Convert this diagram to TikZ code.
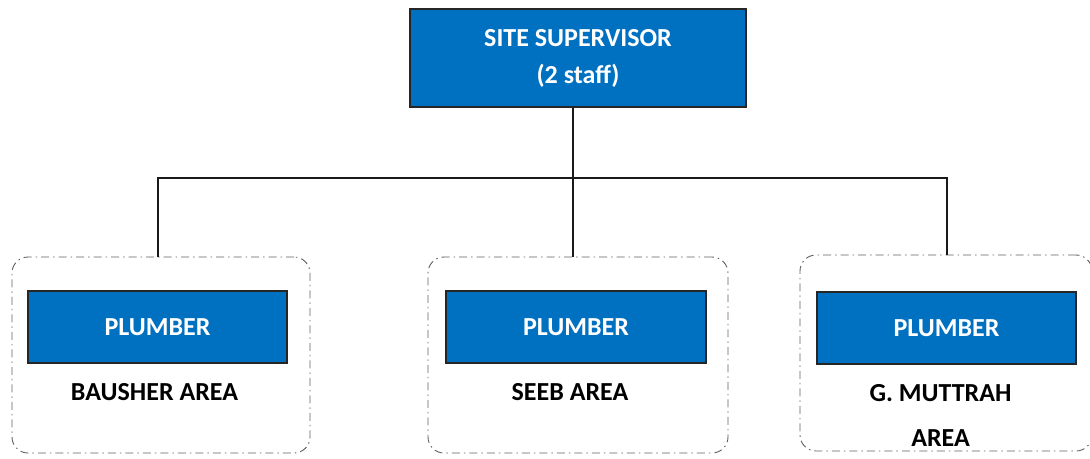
\documentclass[tikz,border=0pt]{standalone}
\usepackage{fontspec}
\setmainfont{Carlito}
\usetikzlibrary{positioning}
\definecolor{boxblue}{HTML}{0070C0}
\definecolor{areagray}{HTML}{606060}
\tikzset{
    post/.style={draw=black!85, line width=1.2pt, fill=boxblue, text=white,
        font=\fontsize{26}{37}\selectfont\bfseries, align=center, inner sep=0pt},
    area/.style={draw=areagray, line width=0.9pt, rounded corners=16pt,
        dash pattern=on 8pt off 4pt on 1.5pt off 4pt, minimum width=298pt, minimum height=196pt},
    place/.style={font=\fontsize{26}{45}\selectfont\bfseries, align=center, inner sep=0pt},
    link/.style={draw=black!90, line width=2pt},
}
\begin{document}
\begin{tikzpicture}[x=1pt, y=-1pt]
    \useasboundingbox (0,0) rectangle (1090,458);

    % dashed area frames
    \node [area] (area-a) at (161,355) {};
    \node [area, minimum width=300pt] (area-b) at (578,355) {};
    \node [area, minimum width=292pt] (area-c) at (946,353) {};

    % boxes
    \node [post, minimum width=336pt, minimum height=98pt] (sup) at (578,58) {SITE SUPERVISOR\\(2 staff)};
    \node [post, minimum width=259pt, minimum height=72pt] (pl-a) at (157.5,327) {PLUMBER};
    \node [post, minimum width=260pt, minimum height=72pt] (pl-b) at (576,327) {PLUMBER};
    \node [post, minimum width=259pt, minimum height=72pt] (pl-c) at (946.5,328) {PLUMBER};

    % area names
    \node [place, below=20pt of pl-a, xshift=-3pt] (name-a) {BAUSHER AREA};
    \node [place, below=20pt of pl-b, xshift=-6pt] (name-b) {SEEB AREA};
    \node [place, below=20pt of pl-c, xshift=-6pt, anchor=north] (name-c) {G. MUTTRAH\\AREA};

    % connectors
    \coordinate (bar) at (573,178);
    \draw [link] (sup.south -| bar) -- (bar);
    \draw [link] (pl-a |- area-a.north) |- (bar) -| (pl-c |- area-c.north);
    \draw [link] (bar) -- (bar |- area-b.north);
\end{tikzpicture}
\end{document}
